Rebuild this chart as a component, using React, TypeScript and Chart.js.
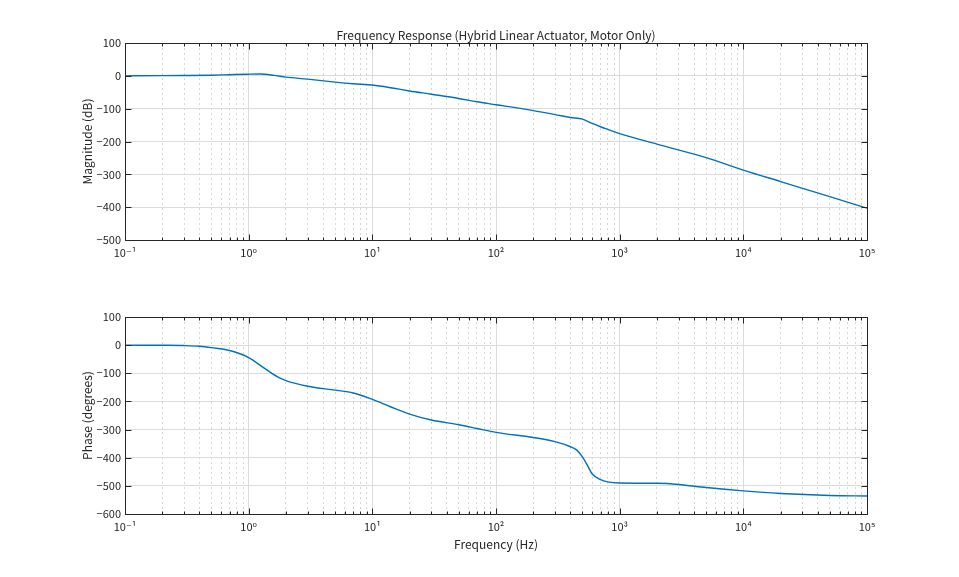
import React, { useEffect, useRef } from "react";
import { Chart, registerables } from "chart.js";

Chart.register(...registerables);

// ---- Data ----
const magFreq = [0.1, 0.2, 0.3, 0.5, 0.7, 1, 1.25, 1.6, 2, 3, 5, 7, 10, 15, 20, 30, 50, 70, 100, 200, 300, 400, 500, 600, 700, 800, 1000, 2000, 5000, 10000, 20000, 50000, 100000];
const magDb = [0, 0.5, 1, 2, 3.5, 5, 5.5, 1.5, -4, -10, -19, -24, -28, -38, -46, -56, -69, -79, -88, -106, -118, -127, -132, -145, -155, -163, -176, -208, -249, -287, -322, -368, -403];

const phFreq = [0.1, 0.2, 0.3, 0.4, 0.5, 0.7, 1, 1.3, 1.7, 2, 3, 5, 7, 10, 14, 20, 30, 50, 70, 100, 200, 300, 400, 450, 500, 550, 600, 700, 800, 1000, 2000, 3000, 5000, 10000, 20000, 50000, 100000];
const phDeg = [0, -0.5, -1.5, -4, -9, -19, -44, -78, -112, -126, -146, -160, -170, -193, -219, -245, -266, -283, -296, -310, -328, -343, -361, -373, -397, -428, -458, -478, -486, -490, -491, -495, -506, -518, -527, -534, -536];

const xDecades = [0.1, 1, 10, 100, 1000, 10000, 100000];
const xMinorMult = [2, 3, 4, 5, 6, 7, 8, 9];
const decadeLabels = ["10⁻¹", "10⁰", "10¹", "10²", "10³", "10⁴", "10⁵"];
const magTicks = [100, 0, -100, -200, -300, -400, -500];
const phTicks = [100, 0, -100, -200, -300, -400, -500, -600];

const TITLE = "Frequency Response (Hybrid Linear Actuator, Motor Only)";
const FONT = "'Noto Sans CJK JP', 'DejaVu Sans', sans-serif";
const TEXT = "#262626";
const LINE = "#0072BD";

const minorValues = (): number[] => {
  const out: number[] = [];
  for (let i = 0; i < xDecades.length - 1; i++) {
    for (const m of xMinorMult) out.push(xDecades[i] * m);
  }
  return out;
};

const framePlugin = {
  id: "frame",
  afterDraw(chart: any) {
    const { ctx, chartArea: a, scales } = chart;
    const x = scales.x;
    const y = scales.y;
    ctx.save();
    ctx.strokeStyle = TEXT;
    ctx.lineWidth = 1;
    ctx.beginPath();
    const L = Math.round(a.left) + 0.5;
    const R = Math.round(a.right) + 0.5;
    const T = Math.round(a.top) + 0.5;
    const B = Math.round(a.bottom) + 0.5;
    ctx.rect(L, T, R - L, B - T);
    const drawX = (v: number, len: number) => {
      const px = Math.round(x.getPixelForValue(v)) + 0.5;
      ctx.moveTo(px, B);
      ctx.lineTo(px, B - len);
      ctx.moveTo(px, T);
      ctx.lineTo(px, T + len);
    };
    xDecades.forEach((v) => drawX(v, 6));
    minorValues().forEach((v) => drawX(v, 3));
    (y.ticks || []).forEach((t: any) => {
      const py = Math.round(y.getPixelForValue(t.value)) + 0.5;
      ctx.moveTo(L, py);
      ctx.lineTo(L + 6, py);
      ctx.moveTo(R, py);
      ctx.lineTo(R - 6, py);
    });
    ctx.stroke();
    ctx.restore();
  },
};

function makeConfig(opts: {
  xs: number[];
  ys: number[];
  yTicks: number[];
  yMin: number;
  yMax: number;
  yTitle: string;
  xTitle?: string;
  title?: string;
  paddingTop: number;
  xHeight: number;
  xTitlePad?: number;
}): any {
  const font = { family: FONT, size: 11 };
  const labelFont = { family: FONT, size: 12 };
  return {
    type: "line",
    data: {
      datasets: [
        {
          data: opts.xs.map((f, i) => ({ x: f, y: opts.ys[i] })),
          borderColor: LINE,
          borderWidth: 1.4,
          pointRadius: 0,
          cubicInterpolationMode: "monotone",
          fill: false,
        },
      ],
    },
    options: {
      animation: false,
      responsive: false,
      maintainAspectRatio: false,
      layout: { padding: { left: 0, right: 92, top: opts.paddingTop, bottom: 0 } },
      plugins: {
        legend: { display: false },
        tooltip: { enabled: false },
        title: opts.title
          ? {
              display: true,
              fullSize: false,
              text: opts.title,
              color: TEXT,
              font: { family: FONT, size: 12, weight: "normal", lineHeight: 1.2 },
              padding: { top: 27.8, bottom: 0.8 },
            }
          : { display: false },
      },
      scales: {
        x: {
          type: "logarithmic",
          min: 0.1,
          max: 100000,
          afterBuildTicks: (s: any) => {
            s.ticks = xDecades.map((v) => ({ value: v, major: true }));
          },
          afterFit: (s: any) => {
            s.height = opts.xHeight;
          },
          grid: { color: "#dcdcdc", lineWidth: 1, drawTicks: false },
          border: { display: false },
          ticks: {
            color: TEXT,
            font,
            padding: 6,
            autoSkip: false,
            maxRotation: 0,
            callback: (v: any) => {
              const i = xDecades.findIndex((d) => Math.abs(Math.log10(d) - Math.log10(Number(v))) < 1e-6);
              return i >= 0 ? decadeLabels[i] : "";
            },
          },
          title: opts.xTitle
            ? {
                display: true,
                text: opts.xTitle,
                color: TEXT,
                font: labelFont,
                padding: { top: 0, bottom: opts.xTitlePad || 0 },
              }
            : { display: false },
        },
        xMinor: {
          type: "logarithmic",
          position: "bottom",
          min: 0.1,
          max: 100000,
          afterBuildTicks: (s: any) => {
            s.ticks = minorValues().map((v) => ({ value: v }));
          },
          afterFit: (s: any) => {
            s.height = 0;
          },
          grid: { color: "#d6d6d6", lineWidth: 1, drawTicks: false },
          border: { display: false, dash: [2, 3] },
          ticks: { display: false },
        },
        y: {
          type: "linear",
          min: opts.yMin,
          max: opts.yMax,
          afterBuildTicks: (s: any) => {
            s.ticks = opts.yTicks.map((v) => ({ value: v }));
          },
          afterFit: (s: any) => {
            s.width = 125;
          },
          grid: { color: "#dcdcdc", lineWidth: 1, drawTicks: false },
          border: { display: false },
          ticks: {
            color: TEXT,
            font,
            padding: 4,
            callback: (v: any) => {
              const n = Number(v);
              return n < 0 ? "−" + Math.abs(n) : String(n);
            },
          },
          title: {
            display: true,
            text: opts.yTitle,
            color: TEXT,
            font: labelFont,
            padding: { top: 79.8, bottom: 0 },
          },
        },
      },
    },
    plugins: [framePlugin],
  };
}

export default function App() {
  const topRef = useRef<HTMLCanvasElement | null>(null);
  const botRef = useRef<HTMLCanvasElement | null>(null);

  useEffect(() => {
    if (!topRef.current || !botRef.current) return;
    const c1 = new Chart(
      topRef.current,
      makeConfig({
        xs: magFreq,
        ys: magDb,
        yTicks: magTicks,
        yMin: -500,
        yMax: 100,
        yTitle: "Magnitude (dB)",
        title: TITLE,
        paddingTop: 0,
        xHeight: 48,
      })
    );
    const c2 = new Chart(
      botRef.current,
      makeConfig({
        xs: phFreq,
        ys: phDeg,
        yTicks: phTicks,
        yMin: -600,
        yMax: 100,
        yTitle: "Phase (degrees)",
        xTitle: "Frequency (Hz)",
        paddingTop: 29,
        xHeight: 63,
        xTitlePad: 25.8,
      })
    );
    return () => {
      c1.destroy();
      c2.destroy();
    };
  }, []);

  return (
    <div style={{ position: "absolute", left: 0, top: 0, width: 959, height: 577, background: "#fff" }}>
      <canvas ref={topRef} width={959} height={288} style={{ position: "absolute", left: 0, top: 0, width: 959, height: 288 }} />
      <canvas ref={botRef} width={959} height={289} style={{ position: "absolute", left: 0, top: 288, width: 959, height: 289 }} />
    </div>
  );
}
